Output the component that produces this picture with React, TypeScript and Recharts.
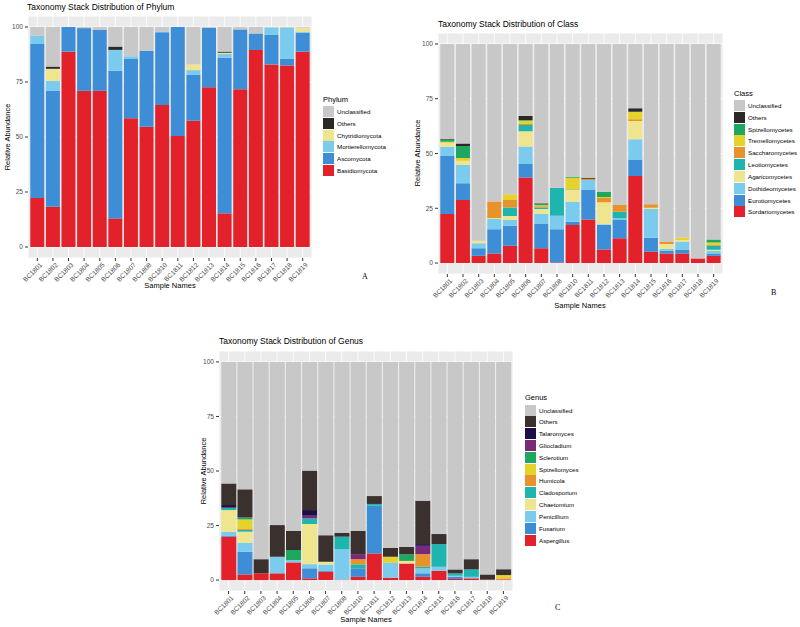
import React from 'react';
import { BarChart, Bar, XAxis, YAxis, CartesianGrid } from 'recharts';

const samples = ['BC1801','BC1802','BC1803','BC1804','BC1805','BC1806','BC1807','BC1808','BC1810','BC1811','BC1812','BC1813','BC1814','BC1815','BC1816','BC1817','BC1818','BC1819'];
const yTicks = [0, 25, 50, 75, 100];

// ---- Phylum (bottom -> top) ----
const phylumNames = ['Basidiomycota','Ascomycota','Mortierellomycota','Chytridiomycota','Others','Unclassified'];
const phylumColors = ['#E2212B','#3D8ED6','#7BCBEF','#EFE58E','#2D2826','#C8C8C8'];
const basidiomycota = [22.3, 18.3, 88.8, 71, 71, 13, 58.5, 54.7, 64.5, 50.5, 57.4, 72.6, 15.3, 71.7, 89.5, 83, 82.5, 88.8];
const ascomycota = [70, 52.7, 11.2, 28.5, 27.8, 67.1, 27, 34.5, 33.1, 49.5, 20.8, 27.1, 70.7, 27.2, 7.6, 13.4, 3, 8.6];
const mortierellomycota = [3.8, 4.5, 0, 0, 0, 9.5, 1.2, 0, 0.4, 0, 2.2, 0, 1.8, 0, 0, 3.4, 14.3, 0.5];
const chytridiomycota = [0, 5.5, 0, 0, 0, 0, 0, 0, 0, 0, 2.6, 0, 0.5, 0, 0, 0, 0, 1.8];
const phylumOthers = [0, 1, 0, 0, 0, 1.5, 0, 0, 0, 0, 0, 0, 0.5, 0, 0, 0, 0, 0];
const phylumUnclassified = [3.9, 18, 0, 0.5, 1.2, 8.9, 13.3, 10.8, 2, 0, 17, 0.3, 11.2, 1.1, 2.9, 0.2, 0.2, 0.3];

// ---- Class (bottom -> top) ----
const classNames = ['Sordariomycetes','Eurotiomycetes','Dothideomycetes','Agaricomycetes','Leotiomycetes','Saccharomycetes','Tremellomycetes','Spizellomycetes','Others','Unclassified'];
const classColors = ['#E2212B','#3D8ED6','#7BCBEF','#EFE58E','#1DB5AE','#E8922C','#E5D22B','#1EA85F','#2D2826','#C8C8C8'];
const sordariomycetes = [22.4, 28.8, 3.3, 4.4, 7.9, 39.1, 6.7, 0.3, 17.4, 19.9, 6.2, 11.3, 39.7, 5.2, 4.4, 4.4, 2.1, 3.3];
const eurotiomycetes = [26.5, 7.6, 3.4, 11, 9.1, 6.1, 11.1, 15.1, 1.5, 13.4, 11.2, 8.3, 7.3, 6.4, 1.2, 1.5, 0, 0.8];
const dothideomycetes = [4.2, 8.3, 2.3, 4.7, 2.6, 8, 4.6, 6.2, 9.1, 4.6, 0.3, 0.8, 9.5, 13.1, 0.8, 3.8, 0, 1.4];
const agaricomycetes = [1.8, 2, 1.2, 0.5, 1.9, 7, 2.3, 0, 5.3, 0, 10, 0, 8.3, 0.5, 2.3, 0.8, 0, 0.6];
const leotiomycetes = [0, 0, 0, 0, 3.8, 2.8, 0.7, 12.8, 0.3, 0, 0, 3, 0, 0, 0, 0, 0, 1.8];
const saccharomycetes = [0, 0, 0, 7.5, 3.5, 0.5, 0.5, 0, 0, 0.6, 2, 3.1, 0.8, 1.6, 0.9, 0, 0, 0.3];
const tremellomycetes = [0.5, 1.2, 0, 0, 2.6, 1.5, 0.5, 0, 5.3, 0, 0.5, 0, 3.5, 0, 0, 1.2, 0, 1.2];
const spizellomycetes = [1, 5.5, 0, 0, 0, 0.3, 0.7, 0, 0.5, 0, 2.3, 0, 0, 0, 0, 0, 0, 1.3];
const classOthers = [0.3, 1.2, 0, 0, 0, 1.8, 0.2, 0, 0, 0.4, 0, 0, 1.5, 0, 0, 0, 0, 0];
const classUnclassified = [43.3, 45.4, 89.8, 71.9, 68.6, 32.9, 72.7, 65.6, 60.6, 61.1, 67.5, 73.5, 29.4, 73.2, 90.4, 88.3, 97.9, 89.3];

// ---- Genus (bottom -> top) ----
const genusNames = ['Aspergillus','Fusarium','Penicillium','Chaetomium','Cladosporium','Humicola','Spizellomyces','Sclerotium','Gliocladium','Talaromyces','Others','Unclassified'];
const genusColors = ['#E2212B','#3D8ED6','#7BCBEF','#EFE58E','#1DB5AE','#E8922C','#E5D22B','#1EA85F','#7A2878','#1E0E48','#3A302D','#C8C8C8'];
const aspergillus = [19.9, 2.6, 3.1, 3.1, 8.1, 0.8, 3.8, 0.2, 1.5, 12.2, 1.1, 7.6, 1.5, 4.3, 0.5, 0.8, 0.2, 0.3];
const fusarium = [0.5, 10.4, 0, 0, 0, 4.6, 0.6, 0, 3.9, 21.9, 0, 0, 1.6, 0, 1, 0, 0, 0];
const penicillium = [1.8, 4.1, 0, 7.6, 1.1, 1.9, 2.8, 13.9, 0, 0, 6.9, 0, 2.3, 1.8, 0.5, 0.7, 0, 0];
const chaetomium = [9.9, 5.1, 0, 0, 0, 18.4, 1.2, 0, 0, 0, 0, 1.2, 0, 0, 0, 0, 0, 0];
const cladosporium = [1.1, 0.8, 0, 0, 0, 2.6, 0, 5.8, 1.8, 0.8, 0, 0, 0.7, 10.4, 1.1, 3.4, 0, 0];
const humicola = [0, 0.4, 0, 0, 0, 0, 0, 0, 2.4, 0, 0, 0, 5.8, 0, 0, 0, 0, 0.5];
const spizellomyces = [0, 4.4, 0, 0, 0, 0, 0, 0, 0, 0, 2.7, 0, 0, 0, 0, 0, 0, 1.5];
const sclerotium = [0, 0.9, 0, 0, 4.6, 0, 0, 0, 0, 0, 0, 3, 0, 0, 0, 0, 0, 0];
const gliocladium = [0, 0, 0, 0, 0, 1.2, 0, 0, 2.3, 0, 0, 0, 3.8, 0, 0, 0, 0, 0];
const talaromyces = [1.2, 0, 0, 0, 0, 2.6, 0, 0, 0, 0, 0, 0, 0.8, 0, 0, 0, 0, 0];
const genusOthers = [9.9, 12.9, 6.5, 14.5, 8.8, 18.1, 12.2, 1.8, 10.7, 3.6, 4.1, 3.4, 19.9, 4.6, 1.8, 4.7, 2.4, 2.7];
const genusUnclassified = [55.7, 58.4, 90.4, 74.8, 77.4, 49.8, 79.4, 78.3, 77.4, 61.5, 85.2, 84.8, 63.6, 78.9, 95.1, 90.4, 97.4, 95];

const FONT = '"Liberation Sans", Arial, Helvetica, sans-serif';

function buildRows(names: string[], series: number[][]) {
  return samples.map((s, i) => {
    const row: any = { sample: s };
    names.forEach((n, k) => { row[n] = series[k][i]; });
    return row;
  });
}

const phylumData = buildRows(phylumNames, [basidiomycota, ascomycota, mortierellomycota, chytridiomycota, phylumOthers, phylumUnclassified]);
const classData = buildRows(classNames, [sordariomycetes, eurotiomycetes, dothideomycetes, agaricomycetes, leotiomycetes, saccharomycetes, tremellomycetes, spizellomycetes, classOthers, classUnclassified]);
const genusData = buildRows(genusNames, [aspergillus, fusarium, penicillium, chaetomium, cladosporium, humicola, spizellomyces, sclerotium, gliocladium, talaromyces, genusOthers, genusUnclassified]);

const RotTick = (props: any) => {
  const { x, y, payload } = props;
  return (
    <g transform={`translate(${x + 2},${y})`}>
      <text x={0} y={0} dy="0.72em" textAnchor="end" transform="rotate(-45)" fontSize={6.6} fill="#4D4D4D" fontFamily={FONT}>
        {payload.value}
      </text>
    </g>
  );
};

type PanelProps = {
  left: number; top: number; width: number; height: number;
  plotLeft: number; plotRight: number; plotTop: number; plotBottom: number;
  data: any[]; names: string[]; colors: string[];
};

function Panel(p: PanelProps) {
  const yW = p.plotLeft - p.left;
  const mRight = p.left + p.width - p.plotRight;
  const mTop = p.plotTop - p.top;
  const xH = p.top + p.height - p.plotBottom;
  return (
    <div style={{ position: 'absolute', left: p.left, top: p.top }}>
      <BarChart width={p.width} height={p.height} data={p.data} barCategoryGap="5%"
        margin={{ top: mTop, right: mRight, left: 0, bottom: 0 }}>
        <CartesianGrid fill="#EBEBEB" stroke="#FFFFFF" strokeWidth={0.8} vertical={true} horizontal={true} />
        <XAxis dataKey="sample" interval={0} height={xH} padding={{ left: 1.5, right: 1.5 }}
          tick={<RotTick />} tickSize={3} tickMargin={1} axisLine={false} tickLine={{ stroke: '#333333' }} />
        <YAxis width={yW} domain={[-5, 105]} ticks={yTicks} allowDataOverflow axisLine={false}
          tickSize={3} tickMargin={2} tickLine={{ stroke: '#333333' }}
          tick={{ fontSize: 6.6, fill: '#4D4D4D', fontFamily: FONT }} />
        {p.names.map((n, i) => (
          <Bar key={n} dataKey={n} stackId="s" fill={p.colors[i]} isAnimationActive={false} />
        ))}
      </BarChart>
    </div>
  );
}

function Legend2(props: { x: number; titleY: number; firstY: number; step: number; title: string; names: string[]; colors: string[] }) {
  const items = props.names.map((n, i) => ({ n, c: props.colors[i] })).reverse();
  return (
    <>
      <div style={{ position: 'absolute', left: props.x, top: props.titleY - 5, fontSize: 7.5, fontFamily: FONT, color: '#000', lineHeight: '10px' }}>{props.title}</div>
      {items.map((it, i) => (
        <div key={it.n} style={{ position: 'absolute', left: props.x, top: props.firstY + i * props.step - 5.5, height: 11, display: 'flex', alignItems: 'center' }}>
          <div style={{ width: 11, height: 11, background: it.c }} />
          <div style={{ marginLeft: 3, fontSize: 6.2, fontFamily: FONT, color: '#000', whiteSpace: 'nowrap' }}>{it.n}</div>
        </div>
      ))}
    </>
  );
}

function Txt(props: { x: number; y: number; size: number; children: any; center?: boolean; rotate?: boolean; serif?: boolean }) {
  const tr = props.rotate ? 'translate(-50%,-50%) rotate(-90deg)' : props.center ? 'translate(-50%,-50%)' : 'translateY(-50%)';
  return (
    <div style={{ position: 'absolute', left: props.x, top: props.y, transform: tr, fontSize: props.size, fontFamily: props.serif ? '"Liberation Serif", "DejaVu Serif", serif' : FONT, whiteSpace: 'nowrap', color: '#000', lineHeight: 1 }}>
      {props.children}
    </div>
  );
}

export default function App() {
  return (
    <div style={{ position: 'fixed', left: 0, top: 0, width: 800, height: 627, background: '#FFFFFF', overflow: 'hidden' }}>
      {/* Chart A */}
      <Txt x={27} y={7} size={8.5}>Taxonomy Stack Distribution of Phylum</Txt>
      <Panel left={0} top={0} width={320} height={300} plotLeft={28} plotRight={312} plotTop={16} plotBottom={258}
        data={phylumData} names={phylumNames} colors={phylumColors} />
      <Txt x={8} y={137} size={7.5} rotate>Relative Abundance</Txt>
      <Txt x={170} y={286} size={7.5} center>Sample Names</Txt>
      <Legend2 x={323} titleY={100} firstY={111.7} step={11.7} title="Phylum" names={phylumNames} colors={phylumColors} />
      <Txt x={362} y={277} size={8} serif>A</Txt>

      {/* Chart B */}
      <Txt x={438} y={24} size={8.5}>Taxonomy Stack Distribution of Class</Txt>
      <Panel left={400} top={0} width={330} height={300} plotLeft={438} plotRight={723} plotTop={33} plotBottom={274}
        data={classData} names={classNames} colors={classColors} />
      <Txt x={418} y={153} size={7.5} rotate>Relative Abundance</Txt>
      <Txt x={580} y={306} size={7.5} center>Sample Names</Txt>
      <Legend2 x={734} titleY={94} firstY={105.3} step={11.85} title="Class" names={classNames} colors={classColors} />
      <Txt x={771} y={293} size={8} serif>B</Txt>

      {/* Chart C */}
      <Txt x={219} y={341} size={8.5}>Taxonomy Stack Distribution of Genus</Txt>
      <Panel left={200} top={310} width={320} height={317} plotLeft={219} plotRight={513} plotTop={351} plotBottom={591}
        data={genusData} names={genusNames} colors={genusColors} />
      <Txt x={204} y={471} size={7.5} rotate>Relative Abundance</Txt>
      <Txt x={366} y={620} size={7.5} center>Sample Names</Txt>
      <Legend2 x={525} titleY={398} firstY={410} step={11.82} title="Genus" names={genusNames} colors={genusColors} />
      <Txt x={555} y={608} size={8} serif>C</Txt>
    </div>
  );
}
